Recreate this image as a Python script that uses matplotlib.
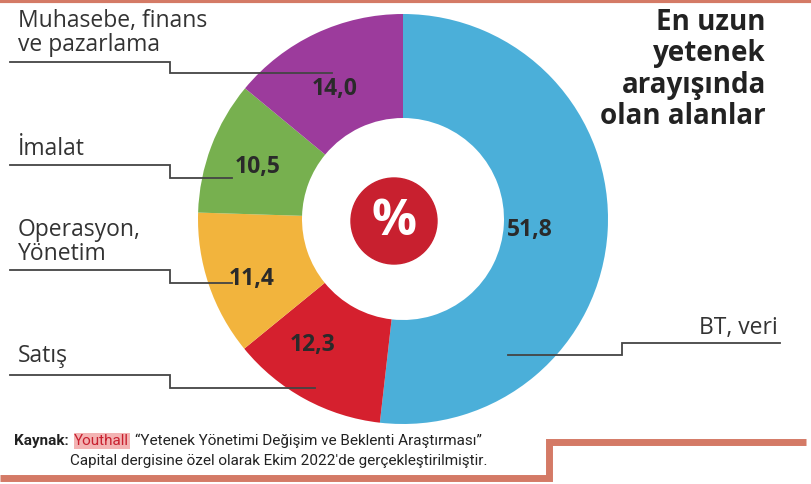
import matplotlib

matplotlib.use("Agg")
import matplotlib.pyplot as plt
from matplotlib.patches import Circle

# data (clockwise from 12 o'clock)
categories = ["BT, veri", "Satış", "Operasyon,\nYönetim", "İmalat", "Muhasebe, finans\nve pazarlama"]
values = [51.8, 12.3, 11.4, 10.5, 14.0]
value_labels = ["51,8", "12,3", "11,4", "10,5", "14,0"]
colors = ["#4bafd9", "#d5202e", "#f2b43d", "#77b04f", "#9c3b9c"]
title_lines = ["En uzun", "yetenek", "arayışında", "olan alanlar"]

W, H = 812, 484
fig = plt.figure(figsize=(W / 100, H / 100), dpi=100)
ax = fig.add_axes([0, 0, 1, 1])


def Y(y):
    # image pixel row -> data y
    return H - y


cx, cy, r_out, r_in = 403, Y(219), 205, 101
ax.pie(values, colors=colors, startangle=90, counterclock=False, center=(cx, cy),
       radius=r_out, wedgeprops=dict(width=r_out - r_in, linewidth=0), frame=True)
ax.add_patch(Circle((394, Y(221)), 43, color="#c8202f", zorder=5))
ax.text(394, Y(222), "%", color="white", fontsize=36, fontweight="bold",
        ha="center", va="center", zorder=6, family="Open Sans")

ax.set_xlim(0, W)
ax.set_ylim(0, H)
ax.set_aspect("equal")
ax.axis("off")

font = "Open Sans"
lab_color = "#333333"
line_kw = dict(color="#444444", lw=1.3, solid_joinstyle="miter")

# value labels on the ring
val_pos = [(530, 230), (313, 345), (252, 279), (258, 167), (335, 89)]
for (x, y), t in zip(val_pos, value_labels):
    ax.text(x, Y(y), t, fontsize=16.5, fontweight="bold", color="#2a2a2a",
            ha="center", va="center", family=font)

# category labels with step leader lines
lab_kw = dict(fontsize=16.5, color=lab_color, va="center", family=font, linespacing=0.95)
ax.text(18, Y(33), categories[4], ha="left", **lab_kw)
ax.plot([10, 170, 170, 332], [Y(62), Y(62), Y(73), Y(73)], **line_kw)

ax.text(18, Y(149), categories[3], ha="left", **lab_kw)
ax.plot([10, 170, 170, 232], [Y(165), Y(165), Y(178), Y(178)], **line_kw)

ax.text(18, Y(242), categories[2], ha="left", **lab_kw)
ax.plot([10, 170, 170, 232], [Y(270), Y(270), Y(283), Y(283)], **line_kw)

ax.text(18, Y(356), categories[1], ha="left", **lab_kw)
ax.plot([10, 170, 170, 315], [Y(375), Y(375), Y(388), Y(388)], **line_kw)

ax.text(778, Y(328), categories[0], ha="right", **lab_kw)
ax.plot([508, 622, 622, 780], [Y(355), Y(355), Y(343), Y(343)], **line_kw)

# title block
for i, t in enumerate(title_lines):
    ax.text(766, Y(22 + 31.5 * i), t, fontsize=20, fontweight="bold", color="#222222",
            ha="right", va="center", family=font)

# decorative frame lines
frame_c = "#d47a66"
ax.plot([0, W], [Y(1), Y(1)], color=frame_c, lw=3, solid_capstyle="butt")
ax.plot([0, 549, 549, 806], [Y(478), Y(478), Y(442), Y(442)], color=frame_c, lw=5,
        solid_joinstyle="miter", solid_capstyle="butt")

# source note, pieces chained left to right
src_font = "Roboto"
src_size = 11
t1 = ax.text(14, Y(441), "Kaynak:", fontsize=src_size, fontweight="bold", color="#222222",
             ha="left", va="center", family=src_font)
t2 = ax.annotate("Youthall", xy=(1, 0.5), xycoords=t1, xytext=(4, 0),
                 textcoords="offset points", fontsize=src_size, color="#c8202f",
                 ha="left", va="center", family=src_font,
                 bbox=dict(boxstyle="square,pad=0.05", fc="#f3b3b3", ec="none"))
ax.annotate("“Yetenek Yönetimi Değişim ve Beklenti Araştırması”", xy=(1, 0.5), xycoords=t2,
            xytext=(4, 0), textcoords="offset points", fontsize=src_size, color="#222222",
            ha="left", va="center", family=src_font)
ax.text(70, Y(461), "Capital dergisine özel olarak Ekim 2022'de gerçekleştirilmiştir.",
        fontsize=src_size, color="#222222", ha="left", va="center", family=src_font)

fig.savefig("out.png", dpi=100)
